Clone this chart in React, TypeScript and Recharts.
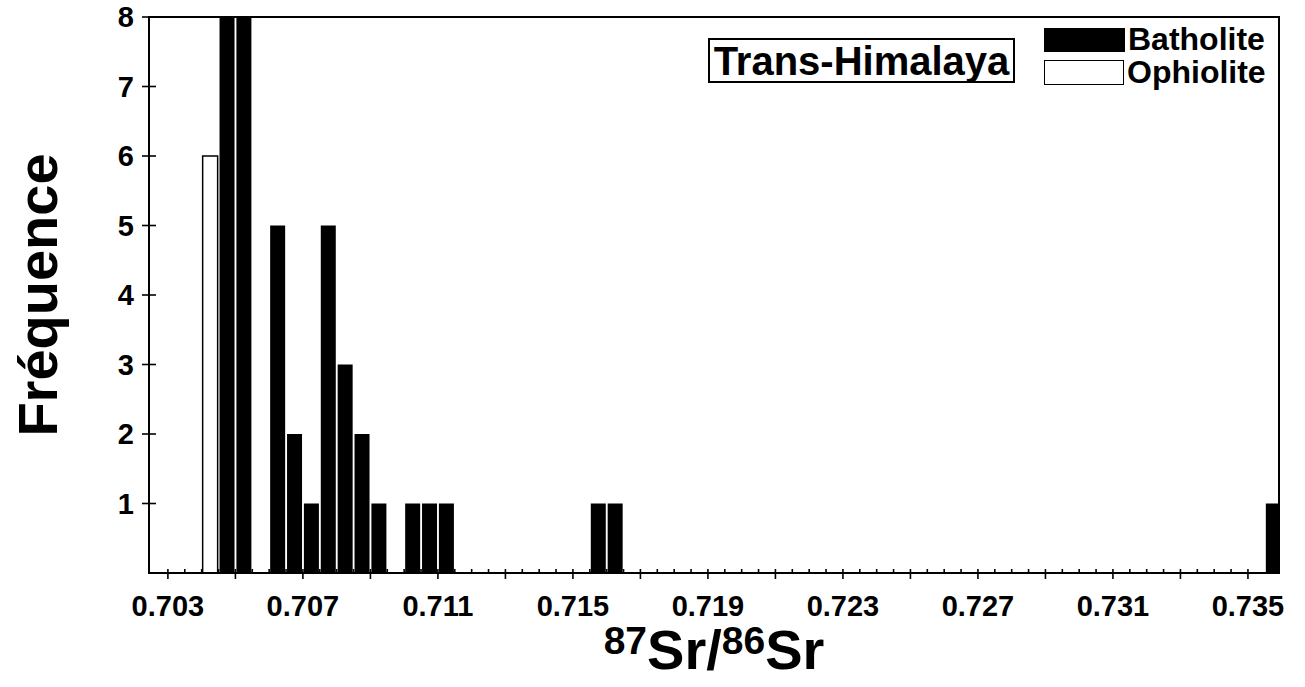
import React from 'react';
import { BarChart, Bar, XAxis, YAxis, Legend, ReferenceArea, Label } from 'recharts';

// Histogram bins (bin centres, width 0.0005) that hold at least one sample
const binCenters = [0.70425, 0.70475, 0.70525, 0.70625, 0.70675, 0.70725, 0.70775, 0.70825, 0.70875, 0.70925, 0.71025, 0.71075, 0.71125, 0.71575, 0.71625, 0.73575];
const batholite = [0, 8, 8, 5, 2, 1, 5, 3, 2, 1, 1, 1, 1, 1, 1, 1];
const ophiolite = [6, 0, 0, 0, 0, 0, 0, 0, 0, 0, 0, 0, 0, 0, 0, 0];
const xTickLabels = [0.703, 0.707, 0.711, 0.715, 0.719, 0.723, 0.727, 0.731, 0.735];
const yTicks = [1, 2, 3, 4, 5, 6, 7, 8];
const seriesNames = ['Batholite', 'Ophiolite'];
const titleText = 'Trans-Himalaya';
const yTitle = 'Fréquence';

const data = binCenters.map((x, i) => ({ x, batholite: batholite[i], ophiolite: ophiolite[i] }));

const FIRST = xTickLabels[0];
const LAST = xTickLabels[xTickLabels.length - 1];
const STEP = 0.0005;
const xTicks: number[] = [];
for (let i = 0; FIRST + i * STEP <= LAST + 1e-9; i++) xTicks.push(Number((FIRST + i * STEP).toFixed(4)));

const FONT = '"Liberation Sans", Arial, Helvetica, sans-serif';

const XTick = (props: any) => {
  const { x, y, payload } = props;
  const v = payload.value as number;
  const idx = Math.round((v - FIRST) / STEP);
  const major = idx % 4 === 0;
  const labeled = xTickLabels.some((t) => Math.abs(t - v) < 1e-7);
  return (
    <g>
      <line x1={x} x2={x} y1={y - 4} y2={major ? y + 6 : y} stroke="#000" strokeWidth={1.6} />
      {labeled && (
        <text x={x} y={y + 43} textAnchor="middle" fontFamily={FONT} fontWeight="bold" fontSize={29} fill="#000">
          {v.toFixed(3)}
        </text>
      )}
    </g>
  );
};

const YTick = (props: any) => {
  const { x, y, payload } = props;
  return (
    <g>
      <line x1={x - 7} x2={x + 7} y1={y} y2={y} stroke="#000" strokeWidth={1.6} />
      <text x={x - 15} y={y + 10} textAnchor="end" fontFamily={FONT} fontWeight="bold" fontSize={29} fill="#000">
        {payload.value}
      </text>
    </g>
  );
};

const XTitle = (props: any) => {
  const vb = props.viewBox || {};
  const cx = vb.x + vb.width / 2;
  const by = vb.y + 96;
  return (
    <text x={cx} y={by} textAnchor="middle" fontFamily={FONT} fontWeight="bold" fill="#000">
      <tspan fontSize={39} dy={-15}>87</tspan>
      <tspan fontSize={56} dy={15}>Sr/</tspan>
      <tspan fontSize={39} dy={-15}>86</tspan>
      <tspan fontSize={56} dy={15}>Sr</tspan>
    </text>
  );
};

const YTitle = (props: any) => {
  const vb = props.viewBox || {};
  const cx = 37;
  const cy = vb.y + vb.height / 2;
  return (
    <text x={cx} y={cy} textAnchor="middle" dominantBaseline="central" transform={`rotate(-90, ${cx}, ${cy})`} fontFamily={FONT} fontWeight="bold" fontSize={56} fill="#000">
      {yTitle}
    </text>
  );
};

const LegendContent = () => (
  <div style={{ fontFamily: FONT, fontWeight: 'bold', fontSize: 32, color: '#000' }}>
    <div style={{ display: 'flex', alignItems: 'center', height: 33 }}>
      <span style={{ display: 'inline-block', width: 81, height: 24, background: '#000', marginRight: 3 }} />
      <span>{seriesNames[0]}</span>
    </div>
    <div style={{ display: 'flex', alignItems: 'center', height: 33 }}>
      <span style={{ display: 'inline-block', width: 78, height: 23, background: '#fff', border: '1.5px solid #000', marginRight: 3 }} />
      <span>{seriesNames[1]}</span>
    </div>
  </div>
);

export default function App() {
  return (
    <div style={{ position: 'absolute', left: 0, top: 0, width: 1305, height: 687, background: '#fff' }}>
      <BarChart width={1305} height={687} data={data} margin={{ top: 17, right: 26, left: 0, bottom: 0 }}>
        <XAxis
          dataKey="x"
          type="number"
          domain={[0.70244, 0.73592]}
          allowDataOverflow
          ticks={xTicks}
          interval={0}
          height={114}
          tickSize={0}
          tickMargin={0}
          tick={<XTick />}
          tickLine={false}
          axisLine={{ stroke: '#000', strokeWidth: 2 }}
        >
          <Label content={<XTitle />} />
        </XAxis>
        <YAxis
          type="number"
          domain={[0, 8]}
          ticks={yTicks}
          interval={0}
          width={149}
          tickSize={0}
          tickMargin={0}
          tick={<YTick />}
          tickLine={false}
          axisLine={{ stroke: '#000', strokeWidth: 2 }}
        >
          <Label content={<YTitle />} />
        </YAxis>
        <ReferenceArea x1={0.70244} x2={0.73592} y1={0} y2={8} fill="none" stroke="#000" strokeWidth={2} ifOverflow="visible" />
        <Bar dataKey="ophiolite" name={seriesNames[1]} stackId="s" barSize={15} fill="#fff" stroke="#000" strokeWidth={1.5} isAnimationActive={false} />
        <Bar dataKey="batholite" name={seriesNames[0]} stackId="s" barSize={15} fill="#000" isAnimationActive={false} />
        <Legend
          layout="horizontal"
          verticalAlign="middle"
          align="center"
          content={<LegendContent />}
          wrapperStyle={{ position: 'absolute', left: 1044, top: 23, width: 250 }}
        />
      </BarChart>
      <div
        style={{
          position: 'absolute',
          left: 708,
          top: 38,
          width: 303,
          height: 41,
          border: '2px solid #000',
          fontFamily: FONT,
          fontWeight: 'bold',
          fontSize: 40,
          lineHeight: '42px',
          textAlign: 'center',
          color: '#000',
          whiteSpace: 'nowrap',
        }}
      >
        {titleText}
      </div>
    </div>
  );
}
